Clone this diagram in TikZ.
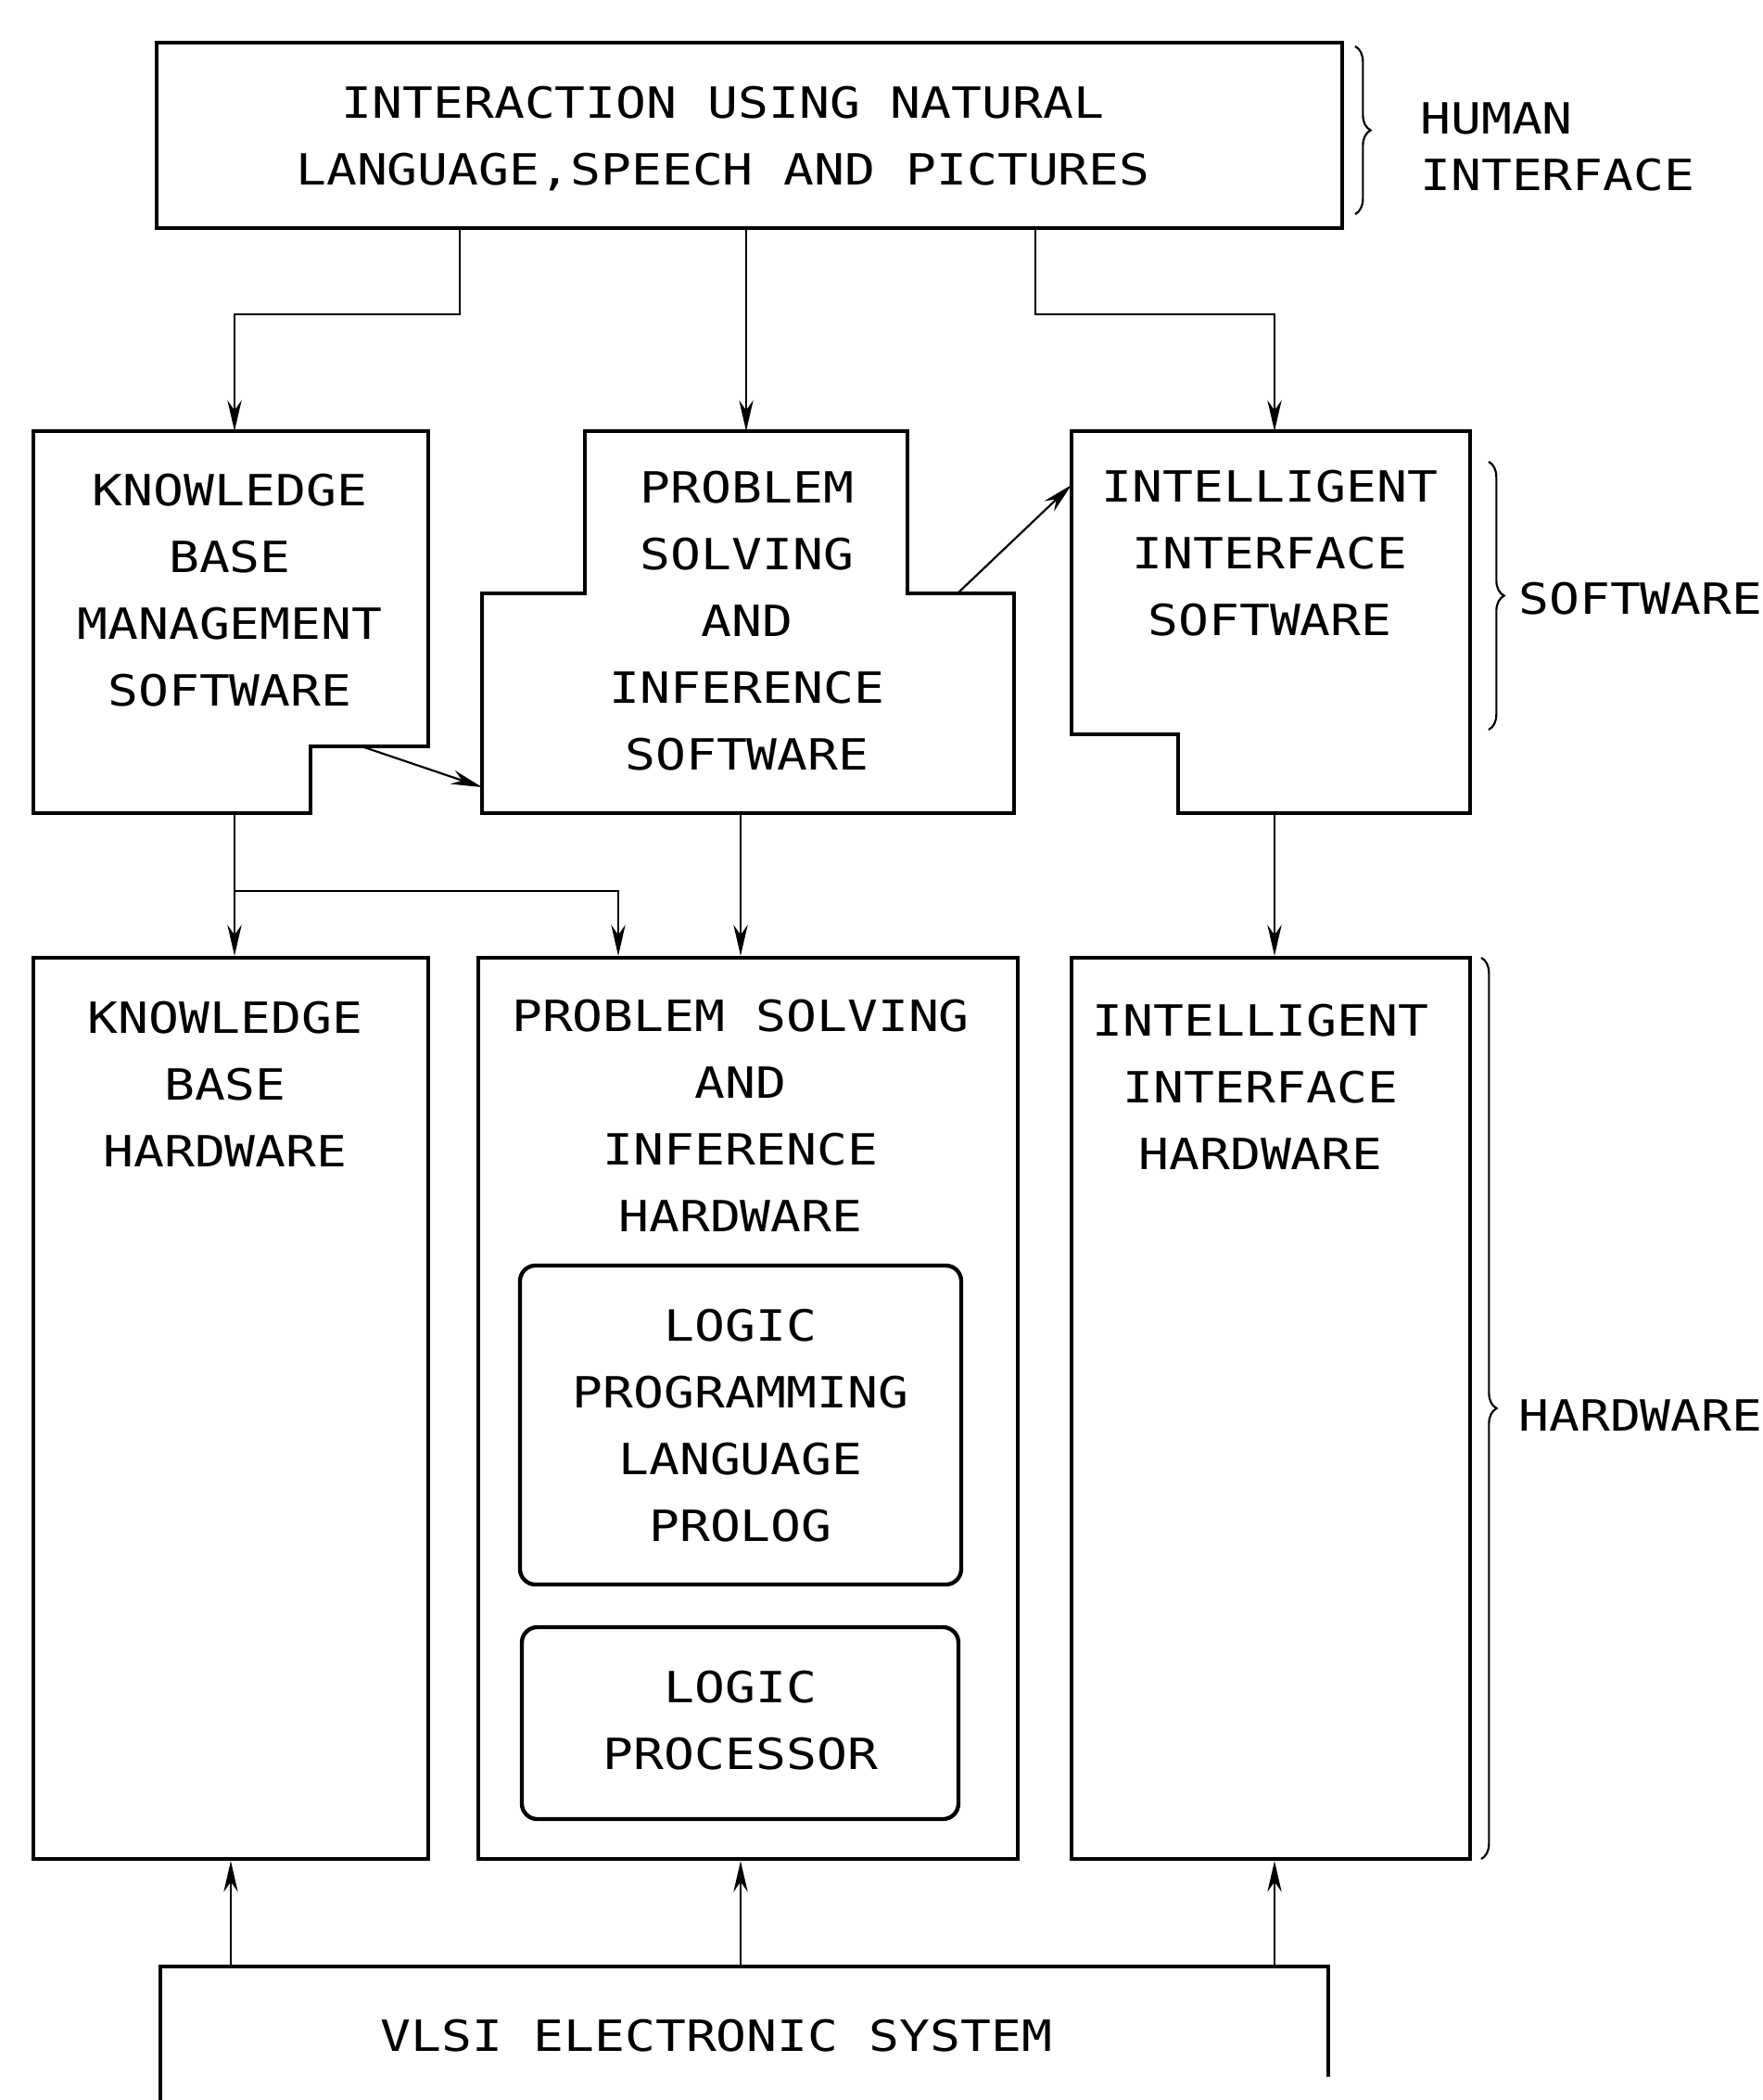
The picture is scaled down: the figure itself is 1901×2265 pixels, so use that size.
\documentclass[tikz,border=0pt]{standalone}
\usepackage{fontspec}
\newfontfamily\lett{DejaVu Sans Mono}[FakeStretch=1.18]
\usetikzlibrary{arrows.meta,fit,decorations.pathreplacing}
\tikzset{every picture/.style={line width=0.75pt}}
\tikzset{
  box/.style={draw, line width=1.3pt, inner sep=0pt},
  rbox/.style={box, rounded corners=5pt},
  txt/.style={align=center, inner sep=0pt, font=\lett\fontsize{13.9}{21.6}\selectfont},
  arr/.style={-{Stealth[length=10pt,width=4.6pt]}, line width=0.65pt},
  brc/.style={decorate, decoration={brace, amplitude=5pt}, line width=0.65pt}
}

\begin{document}
\begin{tikzpicture}[x=0.3pt,y=0.3pt,yscale=-1,xscale=1]
		\useasboundingbox (0,0) rectangle (1901,2265);
		
		%Shape: Rectangle (human interface)
		\node[box, fit={(169,46) (1448,246)}] (intbox) {};
		\node[txt] (inter) at (780,150) {INTERACTION USING NATURAL\\LANGUAGE,SPEECH AND PICTURES};
		
		%Shape: Polygon (knowledge base management software)
		\draw[box] (36,465) -- (462,465) -- (462,805) -- (335,805) -- (335,877) -- (36,877) -- cycle;
		\coordinate (kbms-n) at (253,465);
		\coordinate (kbms-s) at (253,877);
		\coordinate (kbms-notch) at (390,805);
		\node[txt] (kbms) at (248,637) {KNOWLEDGE\\BASE\\MANAGEMENT\\SOFTWARE};
		
		%Shape: Polygon (problem solving and inference software)
		\draw[box] (631,465) -- (979,465) -- (979,640) -- (1094,640) -- (1094,877) -- (520,877) -- (520,640) -- (631,640) -- cycle;
		\coordinate (psis-n) at (805,465);
		\coordinate (psis-s) at (799,877);
		\coordinate (psis-w) at (520,849);
		\coordinate (psis-step) at (1033,640);
		\node[txt] (psis) at (806,670) {PROBLEM\\SOLVING\\AND\\INFERENCE\\SOFTWARE};
		
		%Shape: Polygon (intelligent interface software)
		\draw[box] (1156,465) -- (1586,465) -- (1586,877) -- (1271,877) -- (1271,792) -- (1156,792) -- cycle;
		\coordinate (iis-n) at (1375,465);
		\coordinate (iis-s) at (1375,877);
		\coordinate (iis-w) at (1156,523);
		\node[txt] (iis) at (1370,597) {INTELLIGENT\\INTERFACE\\SOFTWARE};
		
		%Shape: Rectangle (hardware)
		\node[box, fit={(36,1033) (462,2005)}] (kbhbox) {};
		\node[txt] (kbh) at (243,1169) {KNOWLEDGE\\BASE\\HARDWARE};
		\node[box, fit={(516,1033) (1098,2005)}] (psihbox) {};
		\node[txt] (psih) at (799,1203) {PROBLEM SOLVING\\AND\\INFERENCE\\HARDWARE};
		\node[rbox, fit={(561,1365) (1037,1709)}] (lplpbox) {};
		\node[txt] (lplp) at (799,1538) {LOGIC\\PROGRAMMING\\LANGUAGE\\PROLOG};
		\node[rbox, fit={(563,1755) (1034,1962)}] (lpbox) {};
		\node[txt] (lproc) at (799,1856) {LOGIC\\PROCESSOR};
		\node[box, fit={(1156,1033) (1586,2005)}] (iihbox) {};
		\node[txt] (iih) at (1360,1172) {INTELLIGENT\\INTERFACE\\HARDWARE};
		
		%Shape: open box (vlsi)
		\draw[box] (173,2265) -- (173,2121) -- (1433,2121) -- (1433,2240);
		\coordinate (vlsi-n) at (803,2121);
		\node[txt] (vlsi) at (773,2196) {VLSI ELECTRONIC SYSTEM};
		
		%Straight Lines
		\draw[arr] (intbox.south -| 496,0) -- (496,339) -| (kbms-n);
		\draw[arr] (intbox.south -| psis-n) -- (psis-n);
		\draw[arr] (intbox.south -| 1117,0) -- (1117,339) -| (iis-n);
		\draw[arr] (kbms-notch) -- (psis-w);
		\draw[arr] (psis-step) -- (iis-w);
		\draw[arr] (kbms-s) -- (kbms-s |- kbhbox.north);
		\coordinate (kb-branch) at (253,961);
		\draw[arr] (kb-branch) -| (667,0 |- psihbox.north);
		\draw[arr] (psis-s) -- (psis-s |- psihbox.north);
		\draw[arr] (iis-s) -- (iis-s |- iihbox.north);
		\draw[arr] (vlsi-n -| kbhbox.south) -- (kbhbox.south);
		\draw[arr] (vlsi-n -| psis-s) -- (psis-s |- psihbox.south);
		\draw[arr] (vlsi-n -| iis-s) -- (iis-s |- iihbox.south);
		
		%Braces
		\draw[brc] (1462,50) -- (1462,231);
		\draw[brc] (1606,498) -- (1606,787);
		\draw[brc] (1598,1033) -- (1598,2005);
		\node[txt, anchor=west, align=left, font=\lett\fontsize{13.9}{18.3}\selectfont] (human) at (1531,158) {HUMAN\\INTERFACE};
		\node[txt, anchor=west] (soft) at (1637,646) {SOFTWARE};
		\node[txt, anchor=west] (hard) at (1637,1527) {HARDWARE};
		
\end{tikzpicture}
\end{document}
